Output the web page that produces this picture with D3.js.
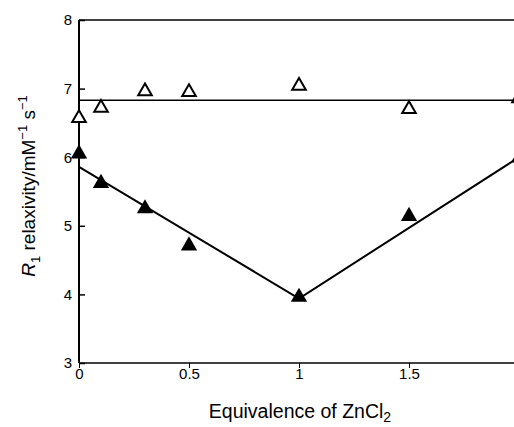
<!DOCTYPE html>
<html>
<head>
<meta charset="utf-8">
<script src="https://cdn.jsdelivr.net/npm/d3@7"></script>
<style>
  body { margin: 0; background: #fff; }
  text { font-family: "Liberation Sans", Arial, sans-serif; fill: #000; }
</style>
</head>
<body>
<div id="chart"></div>
<script>
// Data
const eqOpen = [0, 0.1, 0.3, 0.5, 1.0, 1.5, 2.0];
const r1Open = [6.57, 6.72, 6.96, 6.95, 7.04, 6.70, 6.86];
const eqFilled = [0, 0.1, 0.3, 0.5, 1.0, 1.5, 2.0];
const r1Filled = [6.05, 5.62, 5.25, 4.71, 3.96, 5.14, 5.99];
const fitOpenX = [0, 2.0];
const fitOpenY = [6.83, 6.83];
const fitFilledX = [0, 1.0, 2.0];
const fitFilledY = [5.86, 3.94, 6.0];
const xTicks = [0, 0.5, 1, 1.5, 2];
const yTicks = [3, 4, 5, 6, 7, 8];

const width = 514;
const height = 427;
const margin = { top: 20, left: 79, bottom: 64 };

const svg = d3.select('#chart').append('svg')
    .attr('width', width)
    .attr('height', height);

const xScale = d3.scaleLinear().domain([0, 2]).range([margin.left, 519]);
const yScale = d3.scaleLinear().domain([3, 8]).range([363, margin.top]);

// Frame: left axis, bottom axis, top line
svg.append('line')
    .attr('x1', xScale(0)).attr('x2', xScale(0))
    .attr('y1', yScale(8)).attr('y2', yScale(3))
    .attr('stroke', '#000').attr('stroke-width', 2);
svg.append('line')
    .attr('x1', xScale(0)).attr('x2', width)
    .attr('y1', yScale(3)).attr('y2', yScale(3))
    .attr('stroke', '#000').attr('stroke-width', 1.6);
svg.append('line')
    .attr('x1', xScale(0)).attr('x2', width)
    .attr('y1', yScale(8)).attr('y2', yScale(8))
    .attr('stroke', '#000').attr('stroke-width', 1.6);

// Y axis
const yAxis = d3.axisRight(yScale).tickValues(yTicks).tickSize(6).tickFormat(d3.format('d'));
const yAxisGroup = svg.append('g')
    .attr('transform', `translate(${xScale(0)},0)`)
    .call(yAxis);
yAxisGroup.select('.domain').remove();
yAxisGroup.selectAll('.tick line').attr('stroke-width', 1.5);
yAxisGroup.selectAll('.tick text')
    .attr('x', -7)
    .attr('text-anchor', 'end')
    .attr('font-size', 15);

// X axis
const xAxis = d3.axisBottom(xScale).tickValues(xTicks).tickSize(5).tickFormat(d => d);
const xAxisGroup = svg.append('g')
    .attr('transform', `translate(0,${yScale(3)})`)
    .call(xAxis);
xAxisGroup.select('.domain').remove();
xAxisGroup.selectAll('.tick line').attr('stroke-width', 1);
xAxisGroup.selectAll('.tick text')
    .attr('y', 5)
    .attr('font-size', 15);

// Fit lines
const line = d3.line().x(d => xScale(d[0])).y(d => yScale(d[1]));
svg.append('path')
    .datum(d3.zip(fitOpenX, fitOpenY))
    .attr('d', line)
    .attr('fill', 'none').attr('stroke', '#000').attr('stroke-width', 1.6);
svg.append('path')
    .datum(d3.zip(fitFilledX, fitFilledY))
    .attr('d', line)
    .attr('fill', 'none').attr('stroke', '#000').attr('stroke-width', 2);

// Triangle markers
const filledTri = d3.symbol().type(d3.symbolTriangle).size(115);
const openTri = d3.symbol().type(d3.symbolTriangle).size(80);

svg.append('g').selectAll('path')
    .data(d3.zip(eqFilled, r1Filled))
    .enter().append('path')
        .attr('d', filledTri)
        .attr('transform', d => `translate(${xScale(d[0])},${yScale(d[1])})`)
        .attr('fill', '#000');

svg.append('g').selectAll('path')
    .data(d3.zip(eqOpen, r1Open))
    .enter().append('path')
        .attr('d', openTri)
        .attr('transform', d => `translate(${xScale(d[0])},${yScale(d[1])})`)
        .attr('fill', '#fff')
        .attr('stroke', '#000')
        .attr('stroke-width', 2);

// Axis titles
svg.append('text')
    .attr('x', 300).attr('y', 418)
    .attr('text-anchor', 'middle')
    .attr('font-size', 19.5)
    .html('Equivalence of ZnCl<tspan font-size="14" dy="4">2</tspan>');

svg.append('text')
    .attr('transform', 'translate(35,186) rotate(-90)')
    .attr('text-anchor', 'middle')
    .attr('font-size', 19)
    .html('<tspan font-style="italic">R</tspan><tspan font-size="13" dy="5">1</tspan><tspan dy="-5"> relaxivity/mM</tspan><tspan font-size="13" dy="-8">−1</tspan><tspan dy="8"> s</tspan><tspan font-size="13" dy="-8">−1</tspan>');
</script>
</body>
</html>
